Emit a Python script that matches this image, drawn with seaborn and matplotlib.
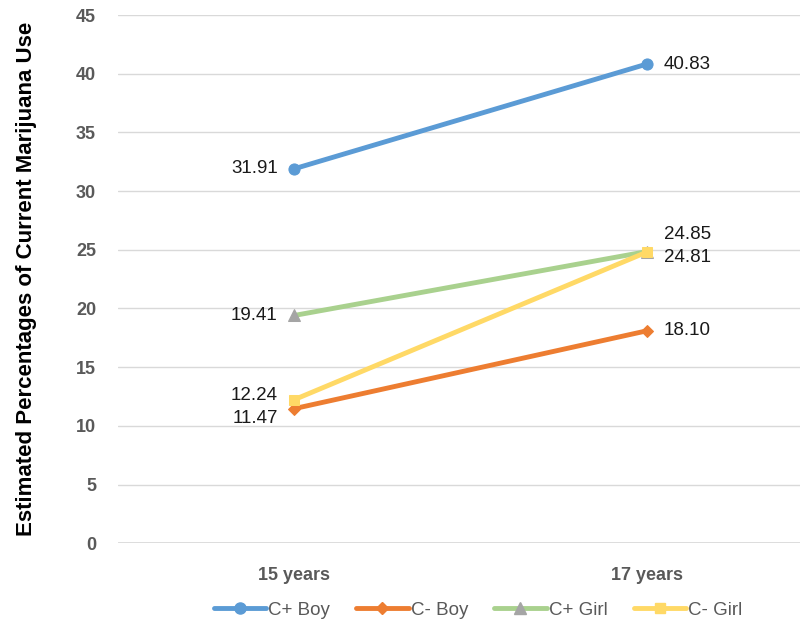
import matplotlib
matplotlib.use("Agg")
import matplotlib.pyplot as plt
import seaborn as sns
import pandas as pd

ages = ["15 years", "17 years"]
groups = ["C+ Boy", "C- Boy", "C+ Girl", "C- Girl"]
c_plus_boy = [31.91, 40.83]
c_minus_boy = [11.47, 18.10]
c_plus_girl = [19.41, 24.85]
c_minus_girl = [12.24, 24.81]

series = [c_plus_boy, c_minus_boy, c_plus_girl, c_minus_girl]
rows = []
for g, vals in zip(groups, series):
    for i, (a, v) in enumerate(zip(ages, vals)):
        rows.append({"age": a, "x": i, "group": g, "value": v})
df = pd.DataFrame(rows)

colors = {"C+ Boy": "#5b9bd5", "C- Boy": "#ed7d31", "C+ Girl": "#a9d18e", "C- Girl": "#ffd966"}
markers = {"C+ Boy": "o", "C- Boy": "D", "C+ Girl": "^", "C- Girl": "s"}
marker_face = {"C+ Boy": "#5b9bd5", "C- Boy": "#ed7d31", "C+ Girl": "#a5a5a5", "C- Girl": "#ffd966"}
msize = {"C+ Boy": 8, "C- Boy": 6.5, "C+ Girl": 8, "C- Girl": 7}

sns.set_style("white")
plt.rcParams['font.family'] = ['Liberation Sans', 'DejaVu Sans']

fig = plt.figure(figsize=(8.1, 6.28), dpi=100)
ax = fig.add_axes([0.146, 0.135, 0.842, 0.841])

sns.lineplot(data=df, x="x", y="value", hue="group", hue_order=groups,
             palette=colors, style="group", markers=markers, dashes=False,
             linewidth=3.5, ax=ax, legend=False)

for line, g in zip(ax.get_lines(), groups):
    line.set_markerfacecolor(marker_face[g])
    line.set_markeredgecolor(marker_face[g])
    line.set_markersize(msize[g])

# value labels
offsets = {
    "C+ Boy": [(-12, 0, "right"), (12, 0, "left")],
    "C- Boy": [(-12, -7, "right"), (12, 0, "left")],
    "C+ Girl": [(-12, 0, "right"), (12, 12, "left")],
    "C- Girl": [(-12, 3, "right"), (12, -4, "left")],
}
for g, vals in zip(groups, series):
    for i, v in enumerate(vals):
        dx, dy, ha = offsets[g][i]
        ax.annotate(f"{v:.2f}", (i, v), xytext=(dx, dy), textcoords="offset points",
                    ha=ha, va="center", fontsize=13.5, color="#1a1a1a")

ax.set_xlim(-0.5, 1.435)
ax.set_ylim(0, 45)
ax.set_yticks(range(0, 46, 5))
ax.set_xticks([0, 1])
ax.set_xticklabels(ages)
ax.yaxis.grid(True, color="#d9d9d9", linewidth=1)
ax.axhline(0, color="#d9d9d9", linewidth=1.2, zorder=0)
ax.set_axisbelow(True)
for s in ax.spines.values():
    s.set_visible(False)
ax.tick_params(axis="both", length=0, labelsize=13, labelcolor="#595959")
ax.tick_params(axis="x", pad=17)
ax.tick_params(axis="y", pad=16)
for lbl in ax.get_xticklabels() + ax.get_yticklabels():
    lbl.set_fontweight("bold")
ax.set_xlabel("")
ax.set_ylabel("Estimated Percentages of Current Marijuana Use", fontsize=16,
              fontweight="bold", color="black", labelpad=28)

handles = []
for g in groups:
    h, = ax.plot([], [], color=colors[g], linewidth=3.5, marker=markers[g],
                 markersize=msize[g], markerfacecolor=marker_face[g],
                 markeredgecolor=marker_face[g])
    handles.append(h)
fig.legend(handles, groups, loc="center", bbox_to_anchor=(0.59, 0.028), ncol=4,
           frameon=False, fontsize=13.5, handlelength=2.8, columnspacing=1.4,
           handletextpad=0.1, labelcolor="#595959")

fig.savefig("out.png", dpi=100)
